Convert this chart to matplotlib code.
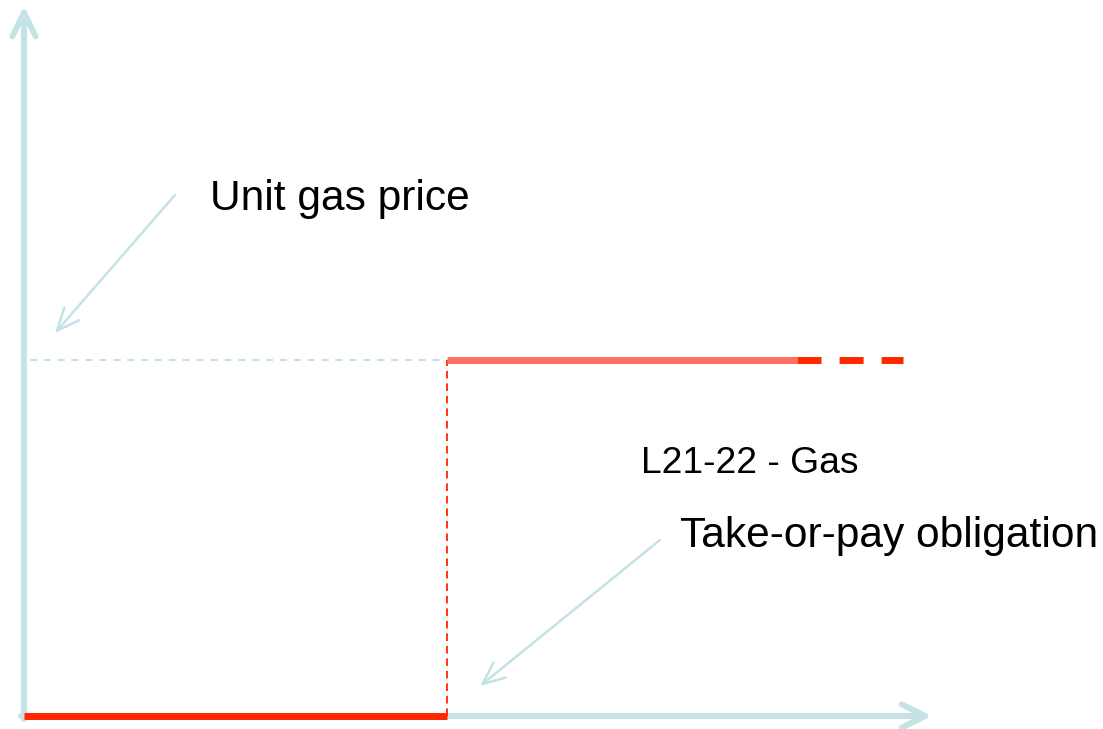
import matplotlib.pyplot as plt

plt.rcParams['font.family'] = ['Liberation Sans', 'DejaVu Sans']
plt.rcParams['lines.scale_dashes'] = False

# step curve of the take-or-pay contract (pixel-like units, origin at the axes corner)
top_qty = 423        # take-or-pay quantity
unit_price = 356     # unit gas price
solid_end = 773      # where the firm line stops
dash_end = 879       # where the dashed continuation stops

below_qty = [0, top_qty]
below_price = [0, 0]
step_qty = [top_qty, top_qty]
step_price = [0, unit_price]
above_qty = [top_qty, solid_end]
above_price = [unit_price, unit_price]
cont_qty = [solid_end, dash_end]
cont_price = [unit_price, unit_price]

axis_blue = '#c5e3e6'
light_red = '#ff6f61'
dark_red = '#ff2600'

fig = plt.figure(figsize=(11.03, 7.29), dpi=100)
ax = fig.add_axes([0, 0, 1, 1])
ax.set_xlim(-24, 1079)
ax.set_ylim(-13, 716)
ax.axis('off')

# axes drawn as arrows
axis_props = dict(arrowstyle='->,head_length=0.85,head_width=0.42', color=axis_blue,
                  lw=4.3, mutation_scale=20, shrinkA=0, shrinkB=0,
                  capstyle='round', joinstyle='round')
ax.annotate('', xy=(0, 710), xytext=(0, -3), arrowprops=axis_props)
ax.annotate('', xy=(908, 0), xytext=(-3, 0), arrowprops=axis_props)

# guide from the price level back to the vertical axis
ax.plot([6, top_qty], [unit_price, unit_price], color=axis_blue, lw=1.5,
        dashes=(5, 5), solid_capstyle='butt')

# price curve
ax.plot(below_qty, below_price, color=dark_red, lw=5, solid_capstyle='butt', zorder=5)
ax.plot(step_qty, step_price, color=dark_red, lw=1.3, dashes=(5.5, 3.5), zorder=5)
ax.plot(above_qty, above_price, color=light_red, lw=5, solid_capstyle='butt', zorder=5)
ax.plot(cont_qty, cont_price, color=dark_red, lw=5, dashes=(17.3, 13),
        dash_capstyle='butt', zorder=5)

# labels and pointers
pointer = dict(arrowstyle='->,head_length=0.8,head_width=0.35', color=axis_blue,
               lw=1.8, mutation_scale=20, shrinkA=0, shrinkB=0,
               capstyle='round', joinstyle='round')
ax.annotate('', xy=(31, 383), xytext=(151, 521), arrowprops=pointer)
ax.annotate('', xy=(456, 30), xytext=(636, 176), arrowprops=pointer)

ax.text(186, 506, 'Unit gas price', fontsize=30.6, va='baseline', ha='left')
ax.text(617, 243, 'L21-22 - Gas', fontsize=26.8, va='baseline', ha='left')
ax.text(656, 169, 'Take-or-pay obligation', fontsize=30.6, va='baseline', ha='left')

fig.savefig('out.png', dpi=100)
